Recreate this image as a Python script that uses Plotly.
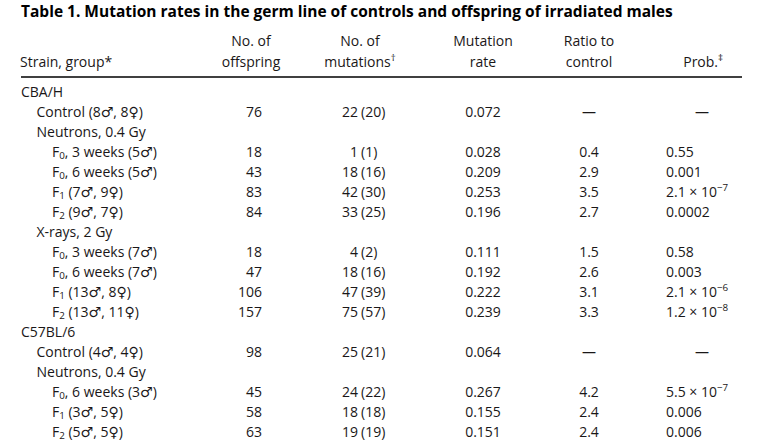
import plotly.graph_objects as go

title = "Table 1. Mutation rates in the germ line of controls and offspring of irradiated males"
header_top = ["", "No. of", "No. of", "Mutation", "Ratio to", ""]
header_bottom = ["Strain, group*", "offspring", "mutations<sup>†</sup>", "rate", "control", "Prob.<sup>‡</sup>"]

labels = ["CBA/H", "Control (8♂, 8♀)", "Neutrons, 0.4 Gy",
          "F<sub>0</sub>, 3 weeks (5♂)", "F<sub>0</sub>, 6 weeks (5♂)",
          "F<sub>1</sub> (7♂, 9♀)", "F<sub>2</sub> (9♂, 7♀)",
          "X-rays, 2 Gy",
          "F<sub>0</sub>, 3 weeks (7♂)", "F<sub>0</sub>, 6 weeks (7♂)",
          "F<sub>1</sub> (13♂, 8♀)", "F<sub>2</sub> (13♂, 11♀)",
          "C57BL/6", "Control (4♂, 4♀)", "Neutrons, 0.4 Gy",
          "F<sub>0</sub>, 6 weeks (3♂)", "F<sub>1</sub> (3♂, 5♀)", "F<sub>2</sub> (5♂, 5♀)"]
levels = [0, 1, 1, 2, 2, 2, 2, 1, 2, 2, 2, 2, 0, 1, 1, 2, 2, 2]
offspring = [None, 76, None, 18, 43, 83, 84, None, 18, 47, 106, 157, None, 98, None, 45, 58, 63]
mutations = [None, 22, None, 1, 18, 42, 33, None, 4, 18, 47, 75, None, 25, None, 24, 18, 19]
mutations_paren = [None, 20, None, 1, 16, 30, 25, None, 2, 16, 39, 57, None, 21, None, 22, 18, 19]
rate = [None, "0.072", None, "0.028", "0.209", "0.253", "0.196", None, "0.111", "0.192", "0.222", "0.239",
        None, "0.064", None, "0.267", "0.155", "0.151"]
ratio = [None, "—", None, "0.4", "2.9", "3.5", "2.7", None, "1.5", "2.6", "3.1", "3.3",
         None, "—", None, "4.2", "2.4", "2.4"]
prob = [None, "—", None, "0.55", "0.001", "2.1 × 10<sup>−7</sup>", "0.0002", None, "0.58", "0.003",
        "2.1 × 10<sup>−6</sup>", "1.2 × 10<sup>−8</sup>", None, "—", None, "5.5 × 10<sup>−7</sup>", "0.006", "0.006"]

FONT = "Open Sans, Noto Sans, DejaVu Sans, sans-serif"
COL = "#1a1718"
FS = 14

# column anchors (x axis units = pixels of the page)
X_LABEL, INDENT = 21, 15.5
X_OFF_R = 262
X_MUT_R, X_MUT_L = 358, 361
X_RATE = 483
X_RATIO = 589
X_PROB_L, X_PROB_C = 666, 702
X_LINE = (21, 742)

rows = list(range(len(labels)))
fig = go.Figure()

def add_text(xs, ys, texts, pos, size=FS, color=COL, weight="normal"):
    fig.add_trace(go.Scatter(x=xs, y=ys, text=texts, mode="text", textposition=pos,
                             textfont=dict(family=FONT, size=size, color=color, weight=weight),
                             hoverinfo="skip", showlegend=False, cliponaxis=False))

# title
add_text([X_LABEL], [-3.97], [title], "middle right", size=15.5, color="#000000", weight="bold")

# header
hx = [None, X_OFF_R - 11, X_MUT_R + 2, X_RATE, X_RATIO, X_PROB_C]
add_text([hx[i] for i in range(1, 5)], [-2.55] * 4, header_top[1:5], "middle center")
add_text([X_LABEL - 1], [-1.5], [header_bottom[0]], "middle right")
add_text(hx[1:5], [-1.5] * 4, header_bottom[1:5], "middle center")
add_text([723], [-1.5], [header_bottom[5]], "middle left")

# strain labels
add_text([X_LABEL + INDENT * l for l in levels], rows, labels, "middle right")

# offspring
r = [i for i in rows if offspring[i] is not None]
add_text([X_OFF_R] * len(r), r, [str(offspring[i]) for i in r], "middle left")

# mutations
r = [i for i in rows if mutations[i] is not None]
add_text([X_MUT_R] * len(r), r, [str(mutations[i]) for i in r], "middle left")
add_text([X_MUT_L] * len(r), r, ["(%d)" % mutations_paren[i] for i in r], "middle right")

# rate
r = [i for i in rows if rate[i] is not None]
add_text([X_RATE] * len(r), r, [rate[i] for i in r], "middle center")

# ratio
r = [i for i in rows if ratio[i] is not None]
add_text([X_RATIO] * len(r), r, [ratio[i] for i in r], "middle center")

# prob
r = [i for i in rows if prob[i] is not None and prob[i] != "—"]
add_text([X_PROB_L] * len(r), r, [prob[i] for i in r], "middle right")
r = [i for i in rows if prob[i] == "—"]
add_text([X_PROB_C] * len(r), r, [prob[i] for i in r], "middle center")

fig.add_shape(type="line", xref="x", yref="y", x0=X_LINE[0], x1=X_LINE[1], y0=-0.8, y1=-0.8,
              line=dict(color="#000000", width=1.3))

top = -93 / 20.0
fig.update_layout(
    width=761, height=444, margin=dict(l=0, r=0, t=0, b=0),
    paper_bgcolor="white", plot_bgcolor="white",
    xaxis=dict(range=[0, 761], visible=False, fixedrange=True),
    yaxis=dict(range=[top + 444 / 20.0, top], visible=False, fixedrange=True),
)
fig.write_html("out.html", config={"displayModeBar": False},
               post_script="document.body.style.margin='0px';")
